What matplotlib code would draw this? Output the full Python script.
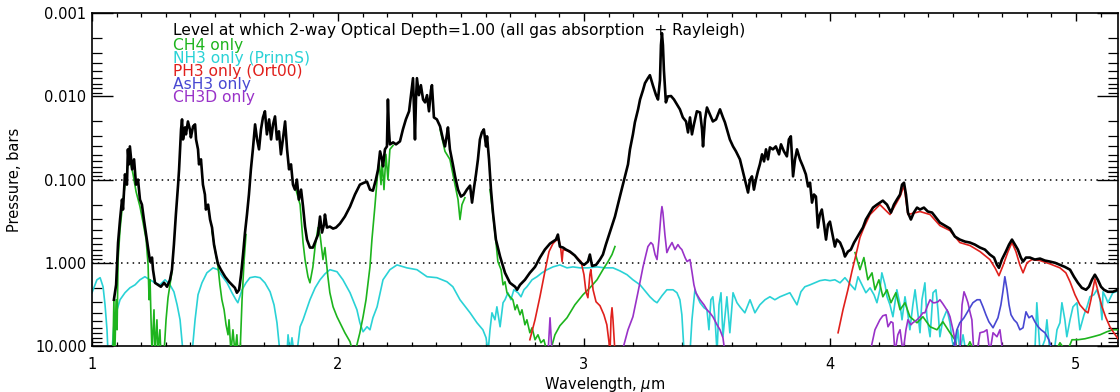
import numpy as np
import matplotlib
matplotlib.use("Agg")
import matplotlib.pyplot as plt
from matplotlib.ticker import FixedLocator, MultipleLocator, LogLocator, NullFormatter, FuncFormatter

nan = np.nan

# ---------------- data (wavelength in micron, pressure in bar) ----------------
total_wl = [1.089,1.098,1.106,1.114,1.122,1.126,1.134,1.142,1.146,1.150,1.154,1.163,1.171,1.179,1.187,1.195,1.203,1.211,1.220,1.228,
    1.236,1.244,1.248,1.256,1.268,1.280,1.293,1.305,1.317,1.325,1.333,1.341,1.350,1.354,1.358,1.362,1.366,1.370,1.378,1.382,
    1.390,1.398,1.402,1.411,1.419,1.423,1.431,1.435,1.443,1.451,1.459,1.463,1.472,1.480,1.488,1.496,1.504,1.512,1.524,1.541,
    1.557,1.569,1.581,1.589,1.598,1.606,1.614,1.622,1.630,1.638,1.646,1.654,1.663,1.671,1.679,1.687,1.695,1.703,1.711,1.720,
    1.728,1.736,1.744,1.752,1.760,1.768,1.776,1.785,1.793,1.801,1.809,1.817,1.825,1.833,1.841,1.850,1.858,1.866,1.874,1.886,
    1.898,1.911,1.919,1.927,1.935,1.943,1.947,1.955,1.967,1.980,1.992,2.008,2.028,2.049,2.069,2.089,2.106,2.118,2.130,2.142,
    2.154,2.163,2.171,2.179,2.183,2.191,2.199,2.203,2.207,2.211,2.224,2.236,2.252,2.264,2.276,2.289,2.297,2.305,2.309,2.313,
    2.317,2.321,2.329,2.337,2.346,2.354,2.362,2.370,2.378,2.382,2.390,2.402,2.415,2.427,2.435,2.443,2.447,2.455,2.467,2.476,
    2.488,2.500,2.512,2.524,2.537,2.545,2.553,2.561,2.569,2.577,2.585,2.593,2.602,2.606,2.614,2.622,2.630,2.642,2.659,2.679,
    2.699,2.720,2.728,2.740,2.760,2.780,2.801,2.821,2.841,2.862,2.874,2.886,2.894,2.902,2.915,2.927,2.943,2.963,2.976,2.988,
    3.000,3.016,3.024,3.033,3.049,3.065,3.077,3.089,3.106,3.126,3.146,3.167,3.179,3.187,3.199,3.207,3.220,3.228,3.240,3.248,
    3.260,3.268,3.280,3.293,3.301,3.309,3.313,3.317,3.321,3.325,3.333,3.341,3.354,3.366,3.378,3.390,3.402,3.415,3.423,3.431,
    3.439,3.447,3.459,3.472,3.480,3.484,3.492,3.500,3.512,3.524,3.537,3.553,3.565,3.573,3.585,3.593,3.606,3.618,3.634,3.646,
    3.654,3.667,3.675,3.683,3.691,3.699,3.707,3.715,3.724,3.732,3.740,3.748,3.756,3.768,3.780,3.793,3.801,3.813,3.825,3.833,
    3.841,3.850,3.858,3.866,3.878,3.890,3.902,3.911,3.919,3.927,3.935,3.943,3.951,3.959,3.967,3.976,3.984,3.992,4.000,4.008,
    4.020,4.028,4.041,4.053,4.061,4.073,4.085,4.098,4.110,4.122,4.134,4.146,4.163,4.175,4.191,4.203,4.215,4.232,4.248,4.260,
    4.272,4.285,4.293,4.301,4.309,4.317,4.329,4.341,4.354,4.366,4.382,4.398,4.415,4.431,4.447,4.467,4.488,4.508,4.528,4.549,
    4.569,4.589,4.610,4.630,4.650,4.667,4.679,4.687,4.699,4.715,4.728,4.740,4.752,4.764,4.776,4.785,4.797,4.813,4.833,4.854,
    4.874,4.894,4.915,4.935,4.955,4.976,4.992,5.008,5.024,5.041,5.053,5.065,5.077,5.089,5.102,5.114,5.130,5.150,5.171]
total_p = [2.78,1.84,0.571,0.302,0.174,0.229,0.0865,0.115,0.0433,0.0656,0.0399,0.0753,0.0571,0.115,0.100,0.174,0.200,0.302,0.458,0.656,
    0.966,0.865,1.21,1.74,1.84,1.94,1.74,1.94,1.60,1.21,0.604,0.263,0.115,0.0753,0.0433,0.0249,0.0189,0.0329,0.0236,0.0286,
    0.0200,0.0249,0.0311,0.0229,0.0217,0.0329,0.0433,0.0656,0.0571,0.115,0.151,0.229,0.200,0.302,0.377,0.604,0.796,1.03,1.21,1.47,
    1.69,1.84,2.00,2.29,2.11,1.39,0.796,0.433,0.263,0.151,0.0753,0.0433,0.0217,0.0329,0.0433,0.0249,0.0179,0.0151,0.0286,0.0189,
    0.0329,0.0217,0.0174,0.0329,0.0263,0.0497,0.0329,0.0200,0.0433,0.0753,0.0656,0.115,0.132,0.100,0.174,0.132,0.211,0.367,0.526,0.656,
    0.656,0.526,0.458,0.278,0.433,0.347,0.263,0.377,0.367,0.388,0.377,0.338,0.278,0.211,0.151,0.115,0.109,0.106,0.132,0.136,
    0.100,0.0753,0.0458,0.0571,0.0693,0.0433,0.0399,0.0109,0.0249,0.0377,0.0357,0.0377,0.0347,0.0249,0.0189,0.0151,0.00966,0.00604,0.0143,0.0329,
    0.0109,0.00604,0.00966,0.00733,0.0109,0.0118,0.00966,0.0151,0.00841,0.00733,0.0179,0.0189,0.0229,0.0329,0.0399,0.0286,0.0236,0.0433,0.0656,0.0914,
    0.132,0.160,0.151,0.132,0.118,0.189,0.125,0.0865,0.0571,0.0329,0.0271,0.0249,0.0399,0.0302,0.0571,0.132,0.249,0.526,0.841,1.32,
    1.74,1.94,2.11,1.84,1.60,1.32,1.12,0.865,0.694,0.587,0.556,0.526,0.458,0.638,0.656,0.694,0.733,0.818,0.914,1.00,
    1.06,0.97,0.796,1.09,1.06,0.914,0.796,0.604,0.421,0.278,0.160,0.0914,0.0656,0.0433,0.0286,0.0205,0.0143,0.0109,0.00841,0.00693,
    0.00604,0.00556,0.00733,0.00966,0.0109,0.00638,0.00242,0.00174,0.00242,0.00484,0.0118,0.0100,0.0099,0.0109,0.0125,0.0143,0.0179,0.0200,0.0271,0.0179,
    0.0286,0.0217,0.0151,0.0156,0.0249,0.0399,0.0189,0.0136,0.0165,0.0200,0.0189,0.0143,0.0179,0.0205,0.0271,0.0329,0.0399,0.0458,0.0571,0.0796,
    0.100,0.143,0.100,0.0914,0.132,0.100,0.0796,0.0656,0.0497,0.0604,0.0433,0.0571,0.0410,0.0433,0.0399,0.0497,0.0377,0.0458,0.0526,0.0329,
    0.0302,0.0914,0.0571,0.0433,0.0571,0.0693,0.0865,0.121,0.109,0.189,0.151,0.160,0.377,0.263,0.229,0.347,0.526,0.347,0.320,0.421,
    0.638,0.526,0.571,0.694,0.841,0.733,0.694,0.571,0.497,0.433,0.377,0.302,0.249,0.217,0.200,0.189,0.179,0.200,0.249,0.200,
    0.174,0.151,0.115,0.109,0.151,0.249,0.302,0.249,0.217,0.229,0.217,0.242,0.249,0.286,0.329,0.357,0.388,0.484,0.526,0.556,
    0.571,0.604,0.656,0.694,0.796,0.865,1.06,1.15,0.914,0.733,0.604,0.526,0.604,0.694,0.865,0.966,0.865,0.865,0.914,0.89,
    0.94,0.966,1.00,1.06,1.12,1.21,1.47,1.74,2.00,2.11,1.94,1.60,1.39,1.60,1.94,2.11,2.23,2.23,2.11]

ch4_wl = [1.085,1.089,1.093,1.098,1.102,1.106,1.114,1.122,1.134,1.146,1.154,1.167,1.179,1.195,1.207,1.220,1.228,1.232,1.236,1.240,
    1.244,1.252,1.256,1.264,1.268,1.276,1.280,1.293,1.301,1.309,1.317,1.325, nan,
    1.488,1.500,1.512,1.520,1.528,1.537,1.545,1.553,1.557,1.565,1.573,1.581,1.589,1.593,1.602,1.610,1.618,1.626, nan,
    1.829,1.846,1.858,1.866,1.878,1.886,1.898,1.907,1.919,1.927,1.939,1.947,1.959,1.967,1.980,1.996,2.008,2.028,2.049,2.061,
    2.077,2.089,2.102,2.114,2.130,2.138,2.150,2.159,2.167,2.175,2.179,2.187,2.195,2.203,2.211,2.224, nan,
    2.415,2.435,2.455,2.476,2.488,2.496,2.504,2.516, nan,
    2.618,2.630,2.642,2.650,2.663,2.671,2.679,2.687,2.699,2.711,2.720,2.728,2.740,2.748,2.760,2.768,2.780,2.789,2.801,2.813,
    2.825,2.837,2.850, nan,
    2.862,2.882,2.902,2.931,2.963,2.996,3.024,3.053,3.077,3.098,3.114,3.126, nan,
    4.102,4.122,4.138,4.154,4.171,4.183,4.199,4.215,4.232,4.248,4.268,4.285,4.305,4.325,4.354,4.378,4.407,4.435,4.459,4.488,
    4.508,4.520,4.549,4.569,4.589,4.915,4.935,4.963,4.984,5.008,5.037,5.069,5.098,5.126,5.150,5.171]
ch4_p = [12,2.78,12,2.78,6.38,0.914,0.399,0.229,0.115,0.0656,0.0571,0.0865,0.139,0.211,0.320,0.526,1.06,2.78,1.60,4.84,
    12,3.67,12,4.84,12,6.38,12,12,4.84,2.63,1.84,1.28, nan,
    0.421,0.694,1.09,1.84,2.78,3.67,5.56,7.33,4.84,12,6.38,12,7.33,12,12,2.78,0.966,0.458, nan,
    0.132,0.200,0.571,0.914,1.47,1.74,1.12,0.638,0.377,0.458,0.914,0.656,1.47,2.29,3.38,4.45,5.26,6.93,8.89,12,
    9.66,6.93,4.45,2.78,1.12,0.526,0.211,0.100,0.0604,0.115,0.0571,0.132,0.0497,0.100,0.0433,0.0388, nan,
    0.0249,0.0458,0.0571,0.115,0.174,0.302,0.200,0.165, nan,
    0.132,0.263,0.556,0.966,1.21,1.84,1.69,2.29,2.56,2.78,3.67,3.20,4.21,3.67,5.56,4.84,6.93,6.04,8.41,7.33,
    9.14,8.41,12, nan,
    12,7.33,5.71,4.58,3.20,2.42,2.00,1.60,1.21,0.966,0.796,0.638, nan,
    0.754,1.21,0.865,1.60,1.32,2.11,1.60,2.56,2.11,3.02,2.29,3.67,3.02,4.45,5.26,4.45,5.87,6.38,5.11,6.93,
    8.41,12,12,8.89,12,12,9.14,12,8.41,8.41,8.18,7.74,7.33,6.74,6.38,6.38]

nh3_wl = [1.000,1.012,1.020,1.033,1.045,1.053,1.061,1.065,1.081,1.089,1.102,1.114,1.134,1.154,1.175,1.195,1.215,1.236,1.256,1.276,
    1.297,1.317,1.333,1.346,1.358,1.370,1.407,1.419,1.431,1.447,1.467,1.492,1.512,1.528,1.549,1.569,1.585,1.593,1.610,1.626,
    1.642,1.663,1.683,1.703,1.724,1.740,1.752,1.764,1.793,1.797,1.805,1.813,1.821,1.833,1.846,1.858,1.886,1.907,1.927,1.947,
    1.967,1.996,2.020,2.049,2.077,2.089,2.102,2.118,2.130,2.142,2.159,2.183,2.211,2.240,2.280,2.321,2.362,2.402,2.443,2.467,
    2.496,2.537,2.565,2.589,2.602,2.610,2.618,2.626,2.638,2.646,2.659,2.671,2.679,2.691,2.703,2.715,2.732,2.744,2.756,2.768,
    2.789,2.809,2.829,2.850,2.874,2.902,2.931,2.955,2.984,3.016,3.053,3.085,3.118,3.146,3.175,3.199,3.228,3.248,3.268,3.285,
    3.297,3.317,3.337,3.362,3.378,3.390,3.398,3.407,3.431,3.439,3.451,3.463,3.472,3.488,3.500,3.508,3.516,3.524,3.533,3.541,
    3.549,3.557,3.565,3.581,3.593,3.606,3.622,3.634,3.654,3.675,3.695,3.715,3.736,3.756,3.776,3.797,3.817,3.837,3.854,3.866,
    3.882,3.898,3.919,3.939,3.959,3.980,4.000,4.020,4.041,4.061,4.081,4.102,4.114,4.130,4.146,4.163,4.179,4.191,4.203,4.211,
    4.224,4.232,4.244,4.256,4.272,4.285,4.293,4.305,4.317,4.325,4.337,4.346,4.358,4.366,4.374,4.386,4.394,4.407,4.419,4.431,
    4.439,4.447,4.459,4.476,4.488,4.496,4.508,4.520,4.528,4.541,4.553,4.833,4.841,4.854,4.874,4.882,4.894,4.911,4.923,4.935,
    4.943,4.955,4.963,4.976,4.988,5.004,5.016,5.033,5.045,5.057,5.073,5.085,5.098,5.106,5.110,5.122,5.130,5.142,5.150,5.163,
    5.171]
nh3_p = [2.29,1.84,1.60,1.51,1.94,3.20,6.38,12,12,5.56,3.67,2.78,2.29,2.00,1.84,1.60,1.47,1.60,1.74,1.84,
    1.60,1.84,2.23,3.20,4.84,12,12,4.84,2.42,1.74,1.32,1.15,1.21,1.43,1.74,2.29,2.78,3.02,2.11,1.74,
    1.51,1.47,1.51,1.74,2.23,3.20,5.26,12,12,7.33,12,7.96,12,12,5.87,4.84,2.78,2.00,1.60,1.36,
    1.21,1.28,1.60,2.29,3.67,5.26,6.74,5.87,6.38,4.58,3.38,1.60,1.21,1.06,1.15,1.21,1.47,1.51,1.69,1.94,
    2.78,3.99,5.26,6.38,7.96,12,6.38,3.99,4.84,3.38,5.87,3.02,2.78,2.29,2.78,2.11,2.29,2.56,2.11,1.94,
    1.60,1.47,1.32,1.21,1.12,1.06,1.15,1.12,1.15,1.15,1.12,1.15,1.15,1.25,1.39,1.60,1.84,2.17,2.56,2.86,
    3.02,2.49,2.11,2.11,2.29,2.78,4.21,12,12,4.84,2.11,2.63,3.02,3.47,3.67,6.38,2.78,2.56,4.84,12,
    3.20,2.29,7.74,2.56,6.93,2.29,3.02,3.38,3.99,2.78,3.99,3.20,2.78,2.56,2.78,2.56,2.42,2.29,2.78,3.20,
    2.23,1.94,1.84,1.74,1.64,1.60,1.64,1.60,1.74,1.51,1.79,2.11,1.47,1.84,2.29,2.00,2.42,3.02,2.11,1.32,
    1.84,2.56,3.20,4.45,2.11,3.20,4.84,2.56,4.21,6.38,3.20,2.11,4.21,6.93,2.78,1.74,4.45,7.74,2.29,2.11,
    3.67,7.74,4.84,3.67,5.26,8.41,12,6.38,12,7.33,12,12,3.02,12,8.41,4.84,12,12,6.38,5.26,
    3.02,4.84,7.74,4.84,3.38,3.02,6.38,4.21,3.38,2.56,2.42,2.11,2.78,4.84,2.23,2.63,3.02,2.56,2.29,2.23,
    2.11]

ph3_wl = [2.780,2.801,2.821,2.841,2.858,2.874,2.886,2.898,2.906,2.911,2.915,2.931,2.951,2.972,2.988,3.000,3.008,3.016,3.024,3.028,
    3.037,3.049,3.065,3.081,3.093,3.102,3.106,3.110,3.114,3.118,3.126, nan,
    4.033,4.053,4.073,4.089,4.106,4.122,4.138,4.163,4.203,4.244,4.285,4.301,4.317,4.366,4.407,4.447,4.488,4.528,4.569,4.610,
    4.650,4.671,4.687,4.703,4.724,4.740,4.756,4.772,4.785,4.801,4.821,4.854,4.894,4.935,4.959,4.976,4.996,5.016,5.037,5.049,
    5.061,5.077,5.093,5.106,5.122,5.138,5.154,5.171]
ph3_p = [8.41,4.84,2.56,1.28,0.733,0.587,0.54,0.526,0.694,0.966,0.694,0.713,0.775,0.865,0.966,1.39,2.23,2.63,1.39,1.21,
    2.11,2.94,3.28,4.21,5.56,9.14,12,4.58,3.47,4.84,12, nan,
    6.93,3.67,2.11,1.28,0.796,0.497,0.377,0.263,0.200,0.263,0.160,0.118,0.263,0.242,0.263,0.357,0.41,0.571,0.62,0.733,
    0.914,1.15,1.43,1.09,0.733,0.571,0.733,1.06,1.32,1.00,0.914,0.94,1.03,1.15,1.32,1.69,2.42,3.20,3.77,4.0,
    2.78,1.56,2.42,3.38,4.58,5.87,6.93,8.18]

ash3_wl = [4.500,4.516,4.528,4.545,4.557,4.569,4.581,4.598,4.610,4.622,4.634,4.646,4.663,4.675,4.683,4.695,4.703,4.711,4.720,4.728,
    4.736,4.748,4.760,4.772,4.785,4.797,4.809,4.821,4.833,4.846,4.858,4.874,4.890,4.907]
ash3_p = [12,6.38,5.26,4.58,3.99,3.47,3.02,2.78,2.78,3.38,4.21,5.11,6.04,5.11,4.58,3.20,2.23,1.47,2.11,3.20,
    4.21,4.84,5.26,6.38,6.04,3.88,4.58,4.33,5.11,5.87,6.38,6.93,8.41,12]

ch3d_wl = [2.854,2.862,2.870, nan,
    3.154,3.179,3.199,3.220,3.240,3.252,3.260,3.272,3.280,3.289,3.297,3.305,3.313,3.317,3.321,3.329,3.337,3.346,3.358,3.370,
    3.382,3.390,3.398,3.411,3.419,3.431,3.439,3.447,3.455,3.472,3.488,3.500,3.512,3.524,3.541,3.553,3.565,3.573, nan,
    4.163,4.183,4.203,4.215,4.228,4.236,4.248,4.256,4.264,4.276,4.285,4.297,4.309,4.317,4.329,4.337,4.354,4.366,4.378,4.386,
    4.398,4.407,4.419,4.427,4.439,4.447,4.459,4.467,4.480,4.488,4.500,4.508,4.516,4.528,4.537,4.545,4.553,4.561,4.569,4.577,
    4.585,4.598,4.610,4.626,4.638,4.650,4.663,4.679,4.691,4.703]
ch3d_p = [12,4.58,12, nan,
    12,6.38,4.45,2.23,1.12,0.796,0.638,0.571,0.604,0.796,0.914,0.526,0.263,0.211,0.249,0.458,0.754,0.656,0.571,0.694,
    0.604,0.656,0.694,0.865,0.966,0.914,1.28,1.84,2.29,2.78,3.20,3.67,3.99,4.45,5.56,6.38,7.96,12, nan,
    12,6.38,4.84,4.33,4.21,5.87,5.11,5.26,12,7.33,6.38,12,6.38,4.84,5.56,5.26,4.84,4.45,3.99,3.99,
    3.20,2.78,3.02,3.02,2.94,2.78,3.11,3.38,3.88,4.45,6.38,8.41,12,12,3.20,2.23,2.56,3.02,3.88,4.84,
    12,12,6.93,6.74,6.38,12,6.93,7.74,6.38,12]

ref_levels = [0.1, 1.0]
y_ticks = [0.001, 0.01, 0.1, 1.0, 10.0]
x_ticks = [1, 2, 3, 4, 5]

title_text = "Level at which 2-way Optical Depth=1.00 (all gas absorption  + Rayleigh)"
legend_labels = ["CH4 only", "NH3 only (PrinnS)", "PH3 only (Ort00)", "AsH3 only", "CH3D only"]
legend_colors = ["#1db41d", "#2ad2d6", "#e0201c", "#4848d2", "#9932c8"]

# ---------------- figure ----------------
plt.rcParams['font.family'] = ['DejaVu Sans']
fig = plt.figure(figsize=(11.2, 3.92), dpi=100)
ax = fig.add_axes([92/1120, 46/392, 1026/1120, 332.8/392])

for lv in ref_levels:
    ax.axhline(lv, color='black', lw=1.1, linestyle=(0, (1, 2.8)), zorder=1)

ax.plot(nh3_wl, nh3_p, color=legend_colors[1], lw=1.2, zorder=2)
ax.plot(ch4_wl, ch4_p, color=legend_colors[0], lw=1.2, zorder=3)
ax.plot(ph3_wl, ph3_p, color=legend_colors[2], lw=1.2, zorder=3)
ax.plot(ch3d_wl, ch3d_p, color=legend_colors[4], lw=1.2, zorder=3)
ax.plot(ash3_wl, ash3_p, color=legend_colors[3], lw=1.2, zorder=3)
ax.plot(total_wl, total_p, color='black', lw=1.9, zorder=4)

ax.set_yscale('log')
ax.set_ylim(10.0, 0.001)
ax.set_xlim(1.0, 5.171)

ax.yaxis.set_major_locator(FixedLocator(y_ticks))
ax.yaxis.set_major_formatter(FuncFormatter(lambda v, p: "%.3f" % v))
ax.yaxis.set_minor_locator(LogLocator(base=10, subs=np.arange(2, 10), numticks=20))
ax.yaxis.set_minor_formatter(NullFormatter())
ax.xaxis.set_major_locator(FixedLocator(x_ticks))
ax.xaxis.set_minor_locator(MultipleLocator(0.1))

ax.tick_params(axis='both', which='both', direction='in', top=True, right=True, colors='black')
ax.tick_params(axis='y', which='major', length=15, width=1.0, labelsize=10.5, pad=4)
ax.tick_params(axis='y', which='minor', length=7.5, width=0.9)
ax.tick_params(axis='x', which='major', length=5.5, width=1.0, labelsize=10.5, pad=8)
ax.tick_params(axis='x', which='minor', length=3, width=0.9)
for s in ax.spines.values():
    s.set_linewidth(1.2)

ax.set_xlabel("Wavelength, $\\mu$m", fontsize=10.5, labelpad=2)
ax.set_ylabel("Pressure, bars", fontsize=10.5, labelpad=9)

tx = (173 - 92) / 1026
ax.text(tx, 1 - (31 - 13.3) / 332.8, title_text, transform=ax.transAxes,
        fontsize=11.2, color='black', va='center', ha='left')
for i, (lab, col) in enumerate(zip(legend_labels, legend_colors)):
    yp = 46 + i * 12.8
    ax.text(tx, 1 - (yp - 13.3) / 332.8, lab, transform=ax.transAxes,
            fontsize=11.2, color=col, va='center', ha='left')

fig.savefig("out.png", dpi=100)
